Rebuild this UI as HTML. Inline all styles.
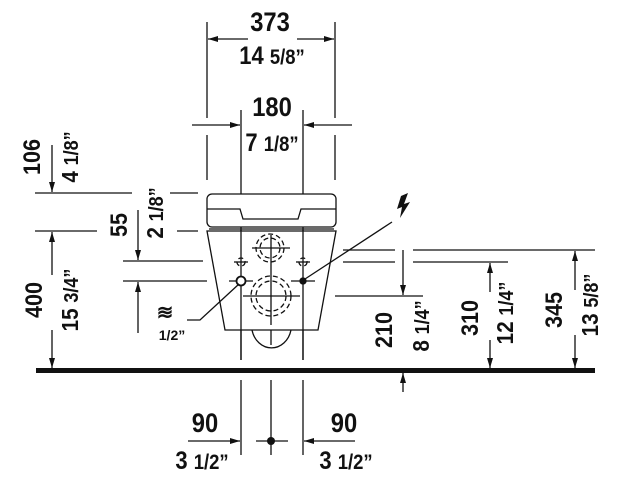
<!DOCTYPE html>
<html><head><style>
html,body{margin:0;padding:0;background:#fff;}
svg{display:block;}
text{font-family:"Liberation Sans",sans-serif;font-weight:bold;fill:#111;}
</style></head><body>
<svg width="626" height="480" viewBox="0 0 626 480" xmlns="http://www.w3.org/2000/svg">
<defs>
<marker id="a" viewBox="0 0 10 6" refX="10" refY="3" markerWidth="10" markerHeight="6" markerUnits="userSpaceOnUse" orient="auto"><path d="M0,0 L10,3 L0,6z" fill="#111"/></marker>
</defs>
<g stroke="#111" stroke-width="1.3" fill="none">
<line x1="207" y1="22" x2="207" y2="118"/><line x1="207" y1="135" x2="207" y2="180"/>
<line x1="335" y1="22" x2="335" y2="118"/><line x1="335" y1="135" x2="335" y2="180"/>
<line x1="241" y1="110" x2="241" y2="360"/><line x1="303" y1="110" x2="303" y2="360"/>
<line x1="271" y1="240" x2="271" y2="345"/>
<line x1="248" y1="39" x2="208" y2="39" marker-end="url(#a)"/>
<line x1="297" y1="39" x2="334" y2="39" marker-end="url(#a)"/>
<line x1="192" y1="125" x2="240" y2="125" marker-end="url(#a)"/>
<line x1="352" y1="125" x2="304" y2="125" marker-end="url(#a)"/>
<line x1="35" y1="193" x2="132" y2="193"/><line x1="170" y1="193" x2="198" y2="193"/>
<line x1="35" y1="231" x2="97" y2="231"/><line x1="177" y1="231" x2="198" y2="231"/>
<line x1="123" y1="261" x2="203" y2="261"/>
<line x1="123" y1="281" x2="207" y2="281"/>
<line x1="52" y1="145" x2="52" y2="192" marker-end="url(#a)"/>
<line x1="52" y1="275" x2="52" y2="232" marker-end="url(#a)"/>
<line x1="52" y1="330" x2="52" y2="368" marker-end="url(#a)"/>
<line x1="138" y1="210" x2="138" y2="260" marker-end="url(#a)"/>
<line x1="138" y1="333" x2="138" y2="282" marker-end="url(#a)"/>
<line x1="343" y1="250" x2="395" y2="250"/><line x1="413" y1="250" x2="595" y2="250"/>
<line x1="343" y1="262" x2="395" y2="262"/><line x1="413" y1="262" x2="508" y2="262"/>
<line x1="335" y1="296" x2="423" y2="296"/>
<line x1="403" y1="250" x2="403" y2="295" marker-end="url(#a)"/>
<line x1="403" y1="392" x2="403" y2="373" marker-end="url(#a)"/>
<line x1="490" y1="292" x2="490" y2="263" marker-end="url(#a)"/>
<line x1="490" y1="340" x2="490" y2="368" marker-end="url(#a)"/>
<line x1="575" y1="290" x2="575" y2="251" marker-end="url(#a)"/>
<line x1="575" y1="335" x2="575" y2="368" marker-end="url(#a)"/>
<line x1="241" y1="380" x2="241" y2="455"/><line x1="303" y1="380" x2="303" y2="455"/>
<line x1="271" y1="380" x2="271" y2="455"/>
<line x1="256" y1="441" x2="288" y2="441"/>
<line x1="188" y1="441" x2="240" y2="441" marker-end="url(#a)"/>
<line x1="355" y1="441" x2="304" y2="441" marker-end="url(#a)"/>
<rect x="207" y="194" width="129" height="33" rx="5" fill="#fff"/>
<path d="M207,209 H240 L243,219 H298 L301,209 H336"/>
<line x1="209" y1="229" x2="334" y2="229"/>
<path d="M207,231 H336 L318,330 H225 Z" fill="#fff"/>
<path d="M252,330 A20,23 0 0 0 291,330"/>
<line x1="241" y1="230" x2="241" y2="360"/><line x1="303" y1="230" x2="303" y2="360"/>
<line x1="271" y1="235" x2="271" y2="325"/>
<line x1="252" y1="248" x2="290" y2="248"/>
<line x1="243" y1="296" x2="300" y2="296"/>
<line x1="234" y1="262" x2="248" y2="262"/><line x1="296" y1="262" x2="310" y2="262"/>
<line x1="229" y1="281" x2="253" y2="281"/><line x1="291" y1="281" x2="315" y2="281"/>
<g stroke-dasharray="5,3">
<circle cx="270" cy="248" r="10"/><circle cx="270" cy="248" r="14"/>
<circle cx="271" cy="296" r="15"/><circle cx="271" cy="296" r="20"/>
<circle cx="241" cy="262" r="4"/><circle cx="303" cy="262" r="4"/>
</g>
<circle cx="241" cy="281" r="4.5" fill="#fff" stroke-width="1.8"/>
<circle cx="303" cy="281" r="3" fill="#111"/>
<polyline points="239,284 200,320 187,320"/>
<line x1="305" y1="279" x2="392" y2="222"/>
</g>
<circle cx="271" cy="441" r="4" fill="#111"/>
<rect x="36" y="368" width="559" height="5" fill="#111"/>
<path d="M401,196 L408,193 L404,204 L410,202 L400,218 L402,207 L397,209 Z" fill="#111"/>
<text transform="translate(270,31) scale(0.88,1)" font-size="27" text-anchor="middle">373</text>
<text transform="translate(272,64) scale(0.88,1)" font-size="25" text-anchor="middle">14 <tspan font-size="21">5/8”</tspan></text>
<text transform="translate(272,116) scale(0.88,1)" font-size="27" text-anchor="middle">180</text>
<text transform="translate(272,151) scale(0.88,1)" font-size="25" text-anchor="middle">7 <tspan font-size="21">1/8”</tspan></text>
<text transform="translate(40,157) rotate(-90) scale(0.9,1)" font-size="24" text-anchor="middle">106</text>
<text transform="translate(78,157) rotate(-90) scale(0.9,1)" font-size="23" text-anchor="middle">4 <tspan font-size="20">1/8”</tspan></text>
<text transform="translate(42,300) rotate(-90) scale(0.9,1)" font-size="24" text-anchor="middle">400</text>
<text transform="translate(78,300) rotate(-90) scale(0.9,1)" font-size="23" text-anchor="middle">15 <tspan font-size="20">3/4”</tspan></text>
<text transform="translate(127,225) rotate(-90) scale(0.9,1)" font-size="24" text-anchor="middle">55</text>
<text transform="translate(163,213) rotate(-90) scale(0.9,1)" font-size="23" text-anchor="middle">2 <tspan font-size="20">1/8”</tspan></text>
<text transform="translate(392,330) rotate(-90) scale(0.9,1)" font-size="24" text-anchor="middle">210</text>
<text transform="translate(429,326) rotate(-90) scale(0.9,1)" font-size="23" text-anchor="middle">8 <tspan font-size="20">1/4”</tspan></text>
<text transform="translate(478,318) rotate(-90) scale(0.9,1)" font-size="24" text-anchor="middle">310</text>
<text transform="translate(513,313) rotate(-90) scale(0.9,1)" font-size="23" text-anchor="middle">12 <tspan font-size="20">1/4”</tspan></text>
<text transform="translate(562,310) rotate(-90) scale(0.9,1)" font-size="24" text-anchor="middle">345</text>
<text transform="translate(598,305) rotate(-90) scale(0.9,1)" font-size="23" text-anchor="middle">13 <tspan font-size="20">5/8”</tspan></text>
<text x="165" y="319" font-size="20" text-anchor="middle">≋</text>
<text x="172" y="340" font-size="14" text-anchor="middle" font-weight="normal">1/2”</text>
<text transform="translate(205,432) scale(0.88,1)" font-size="27" text-anchor="middle">90</text>
<text transform="translate(202,469) scale(0.88,1)" font-size="25" text-anchor="middle">3 <tspan font-size="21">1/2”</tspan></text>
<text transform="translate(344,432) scale(0.88,1)" font-size="27" text-anchor="middle">90</text>
<text transform="translate(346,469) scale(0.88,1)" font-size="25" text-anchor="middle">3 <tspan font-size="21">1/2”</tspan></text>
</svg>
</body></html>
